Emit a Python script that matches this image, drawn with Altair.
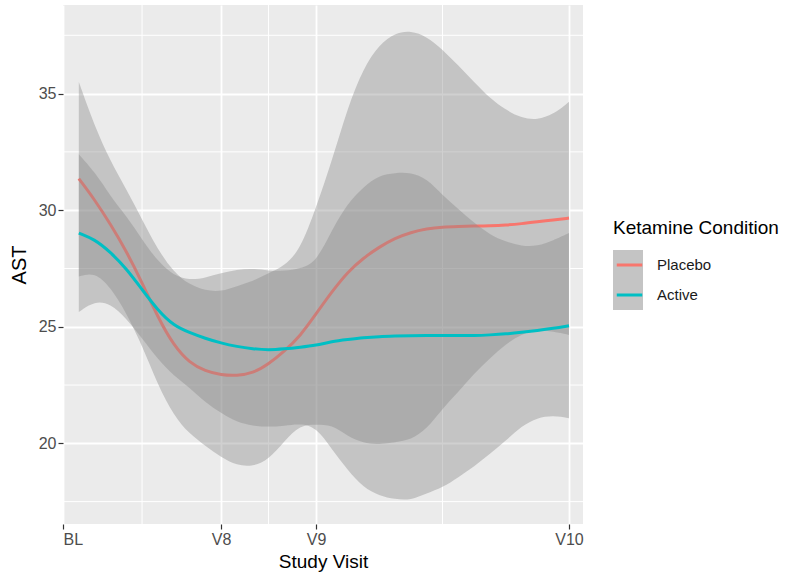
import altair as alt
import pandas as pd

# ---- data ----
conditions = ["Placebo", "Active"]
x_vals = [0.5, 1.0, 1.5, 2.0, 2.5, 3.0, 3.5, 4.0, 4.5, 5.0, 5.5, 6.0, 6.5, 7.0, 7.5, 8.0,
          8.5, 9.0, 9.5, 10.0, 10.5, 11.0, 11.5, 12.0, 12.5, 13.0, 13.5, 14.0, 14.5, 15.0, 15.5, 16.0]

placebo_mean = [31.35, 30.45, 29.4, 28.25, 26.9, 25.4, 24.2, 23.45, 23.1, 22.93, 22.9, 23.0, 23.4, 23.95, 24.6, 25.55,
                26.5, 27.35, 27.95, 28.42, 28.8, 29.05, 29.2, 29.28, 29.3, 29.32, 29.33, 29.36, 29.42, 29.5, 29.58, 29.66]
placebo_lo = [27.15, 27.35, 26.7, 25.6, 24.2, 22.5, 21.2, 20.4, 19.9, 19.4, 19.05, 19.0, 19.3, 20.1, 20.8, 20.8,
              20.8, 20.3, 20.0, 19.95, 20.05, 20.15, 20.6, 21.5, 22.2, 23.0, 23.65, 24.25, 24.7, 24.85, 24.8, 24.65]
placebo_hi = [35.5, 33.6, 32.1, 30.9, 29.6, 28.3, 27.35, 26.8, 26.55, 26.5, 26.75, 26.95, 27.3, 27.6, 28.3, 30.1,
              32.1, 34.4, 36.1, 37.1, 37.6, 37.7, 37.45, 36.9, 36.2, 35.5, 34.8, 34.3, 33.95, 33.87, 34.1, 34.65]

active_mean = [29.02, 28.75, 28.2, 27.5, 26.6, 25.7, 25.05, 24.75, 24.5, 24.3, 24.15, 24.05, 24.0, 24.05, 24.12, 24.2,
               24.37, 24.45, 24.53, 24.58, 24.6, 24.62, 24.63, 24.63, 24.62, 24.62, 24.65, 24.69, 24.76, 24.84, 24.93, 25.04]
active_lo = [25.63, 26.1, 26.0, 25.35, 24.5, 23.6, 22.9, 22.4, 21.75, 21.3, 20.9, 20.75, 20.7, 20.75, 20.85, 20.7,
             19.75, 18.85, 18.1, 17.75, 17.6, 17.56, 17.85, 18.1, 18.55, 19.0, 19.55, 20.1, 20.75, 21.1, 21.2, 21.08]
active_hi = [32.4, 31.65, 30.6, 29.75, 28.75, 27.8, 27.2, 27.0, 27.1, 27.3, 27.45, 27.5, 27.4, 27.4, 27.5, 27.75,
             29.15, 30.3, 31.0, 31.5, 31.6, 31.62, 31.35, 30.65, 30.05, 29.45, 28.95, 28.65, 28.45, 28.45, 28.7, 29.02]

x_tick_values = [0, 5, 8, 16]
x_tick_labels = ["BL", "V8", "V9", "V10"]
x_minor = [2.5, 6.5, 12]
y_tick_values = [20, 25, 30, 35]
y_minor = [17.5, 22.5, 27.5, 32.5, 37.5]

line_colors = ["#F8766D", "#00BFC4"]
ribbon_color = "#8A8A8A"

# ---- tables ----
rows = []
for cond, m, lo, hi in [("Placebo", placebo_mean, placebo_lo, placebo_hi),
                        ("Active", active_mean, active_lo, active_hi)]:
    for xv, a, b, c in zip(x_vals, m, lo, hi):
        rows.append({"x": xv, "mean": a, "lo": b, "hi": c, "cond": cond, "grp": cond})
df = pd.DataFrame(rows)
xminor_df = pd.DataFrame({"v": x_minor})
yminor_df = pd.DataFrame({"v": y_minor})

label_expr = " : ".join(
    f"datum.value == {v} ? '{t}'" for v, t in zip(x_tick_values, x_tick_labels)
) + " : ''"

FONT = "Liberation Sans"
x_scale = alt.Scale(domain=[0, 16.443], nice=False, zero=False)
y_scale = alt.Scale(domain=[16.54, 38.8], nice=False, zero=False)

x_axis = alt.Axis(values=x_tick_values, labelExpr=label_expr, title="Study Visit",
                  grid=True, gridColor="white", gridWidth=1.8, domain=False,
                  tickColor="#333333", tickSize=5, tickWidth=1.2, labelColor="#4D4D4D",
                  labelFontSize=16, labelPadding=2, titleFontSize=19, titleFontWeight="normal",
                  titleColor="black", titlePadding=5, labelFont=FONT, titleFont=FONT)
y_axis = alt.Axis(values=y_tick_values, title="AST",
                  grid=True, gridColor="white", gridWidth=1.8, domain=False,
                  tickColor="#333333", tickSize=5, tickWidth=1.2, labelColor="#4D4D4D",
                  labelFontSize=16, labelPadding=2, titleFontSize=20, titleFontWeight="normal",
                  titleColor="black", titlePadding=9, labelFont=FONT, titleFont=FONT)

LX, LY = 550, 214
fill_legend = alt.Legend(orient="none", legendX=LX, legendY=LY, title="Ketamine Condition",
                         titleColor="transparent", labelExpr="''",
                         titleFontSize=19, titleFont=FONT, titleFontWeight="normal", titlePadding=12,
                         labelFontSize=15, labelFont=FONT, labelOffset=11,
                         symbolType="square", symbolSize=900, symbolStrokeWidth=0,
                         symbolOpacity=0.5, rowPadding=0, padding=0, clipHeight=30)
line_legend = alt.Legend(orient="none", legendX=LX, legendY=LY, title="Ketamine Condition",
                         titleColor="black", labelColor="#1a1a1a",
                         titleFontSize=19, titleFont=FONT, titleFontWeight="normal", titlePadding=12,
                         labelFontSize=15, labelFont=FONT, labelOffset=11,
                         symbolType="M-0.85,0H0.85", symbolSize=900, symbolStrokeWidth=3,
                         rowPadding=0, padding=0, clipHeight=30)

fill_enc = alt.Fill("grp:N", sort=conditions,
                    scale=alt.Scale(range=[ribbon_color, ribbon_color]),
                    legend=fill_legend)
stroke_enc = alt.Stroke("cond:N", scale=alt.Scale(domain=conditions, range=line_colors),
                        legend=line_legend)

base = alt.Chart(df)

vminor = alt.Chart(xminor_df).mark_rule(color="white", strokeWidth=1.0).encode(
    x=alt.X("v:Q", scale=x_scale, axis=x_axis))
hminor = alt.Chart(yminor_df).mark_rule(color="white", strokeWidth=1.0).encode(
    y=alt.Y("v:Q", scale=y_scale, axis=y_axis))

def ribbon(cond):
    return base.transform_filter(alt.datum.cond == cond).mark_area(
        opacity=0.4, interpolate="basis").encode(
        x=alt.X("x:Q", scale=x_scale, axis=x_axis),
        y=alt.Y("lo:Q", scale=y_scale, axis=y_axis),
        y2="hi:Q",
        fill=fill_enc)

def curve(cond):
    return base.transform_filter(alt.datum.cond == cond).mark_line(
        strokeWidth=3, interpolate="basis").encode(
        x=alt.X("x:Q", scale=x_scale, axis=x_axis),
        y=alt.Y("mean:Q", scale=y_scale, axis=y_axis),
        stroke=stroke_enc)

chart = alt.layer(
    vminor, hminor,
    ribbon("Placebo"), curve("Placebo"),
    ribbon("Active"), curve("Active"),
).properties(
    width=520, height=519,
    autosize=alt.AutoSizeParams(type="none"),
    padding={"left": 63, "top": 5, "right": 203, "bottom": 51},
    background="white",
).configure_view(fill="#EBEBEB", strokeWidth=0)

chart.save("out.html", embed_options={"renderer": "svg", "actions": False})
